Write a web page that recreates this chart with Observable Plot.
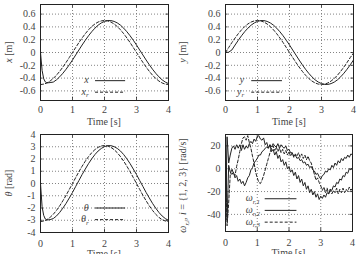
<!DOCTYPE html>
<html>
<head>
<meta charset="utf-8">
<script src="https://cdn.jsdelivr.net/npm/d3@7"></script>
<script src="https://cdn.jsdelivr.net/npm/@observablehq/plot@0.6"></script>
<style>
  body { margin: 0; background: #fff; font-family: "Liberation Serif", serif; }
  #fig { position: relative; width: 357px; height: 254px; overflow: hidden; background: #fff; }
  #fig svg { position: absolute; overflow: visible; }
</style>
</head>
<body>
<div id="fig"></div>
<script>
// Sample times (s) for the pose trajectories
const tPose = [0, 0.05, 0.1, 0.15, 0.2, 0.3, 0.4, 0.5, 0.6, 0.7, 0.8, 0.9, 1.0, 1.1, 1.2, 1.3, 1.4, 1.5, 1.6, 1.7, 1.8, 1.9, 2.0,
  2.1, 2.2, 2.3, 2.4, 2.5, 2.6, 2.7, 2.8, 2.9, 3.0, 3.1, 3.2, 3.3, 3.4, 3.5, 3.6, 3.7, 3.8, 3.9, 4.0];

// x position [m]: measured and reference
const xMeas = [0, -0.28, -0.41, -0.46, -0.475, -0.47, -0.462, -0.427, -0.38, -0.324, -0.261, -0.191, -0.117, -0.039, 0.039, 0.117,
  0.191, 0.261, 0.324, 0.38, 0.427, 0.462, 0.486, 0.499, 0.499, 0.486, 0.462, 0.427, 0.38, 0.324, 0.261, 0.191, 0.117,
  0.039, -0.039, -0.117, -0.191, -0.261, -0.324, -0.38, -0.427, -0.462, -0.486];
const xRef = [-0.5, -0.498, -0.494, -0.486, -0.476, -0.446, -0.405, -0.354, -0.294, -0.227, -0.155, -0.078, 0, 0.078, 0.155, 0.227,
  0.294, 0.354, 0.405, 0.446, 0.476, 0.494, 0.5, 0.494, 0.476, 0.446, 0.405, 0.354, 0.294, 0.227, 0.155, 0.078, 0,
  -0.078, -0.155, -0.227, -0.294, -0.354, -0.405, -0.446, -0.476, -0.494, -0.5];

// heading θ [rad]: measured and reference
const thMeas = [0, -1.9, -2.6, -2.9, -2.98, -2.95, -2.86, -2.65, -2.36, -2.01, -1.62, -1.18, -0.73, -0.24, 0.24, 0.73,
  1.18, 1.62, 2.01, 2.36, 2.65, 2.86, 3.01, 3.09, 3.09, 3.01, 2.86, 2.65, 2.36, 2.01, 1.62, 1.18, 0.73,
  0.24, -0.24, -0.73, -1.18, -1.62, -2.01, -2.36, -2.65, -2.86, -3.01];
const thRef = [-3.1, -3.088, -3.062, -3.013, -2.951, -2.765, -2.511, -2.195, -1.823, -1.407, -0.961, -0.484, 0, 0.484, 0.961, 1.407,
  1.823, 2.195, 2.511, 2.765, 2.951, 3.063, 3.1, 3.063, 2.951, 2.765, 2.511, 2.195, 1.823, 1.407, 0.961, 0.484, 0,
  -0.484, -0.961, -1.407, -1.823, -2.195, -2.511, -2.765, -2.951, -3.063, -3.1];

// y position [m]: measured and reference (0.1 s steps)
const tY = [0, 0.1, 0.2, 0.3, 0.4, 0.5, 0.6, 0.7, 0.8, 0.9, 1.0, 1.1, 1.2, 1.3, 1.4, 1.5, 1.6, 1.7, 1.8, 1.9, 2.0,
  2.1, 2.2, 2.3, 2.4, 2.5, 2.6, 2.7, 2.8, 2.9, 3.0, 3.1, 3.2, 3.3, 3.4, 3.5, 3.6, 3.7, 3.8, 3.9, 4.0];
const yMeas = [0, 0.005, 0.04, 0.117, 0.191, 0.261, 0.325, 0.38, 0.427, 0.462, 0.486, 0.499, 0.499, 0.486, 0.462, 0.427,
  0.38, 0.324, 0.261, 0.191, 0.117, 0.039, -0.039, -0.117, -0.191, -0.261, -0.324, -0.38, -0.427, -0.462, -0.486,
  -0.499, -0.499, -0.486, -0.462, -0.427, -0.38, -0.324, -0.261, -0.191, -0.117];
const yRef = [0, 0.078, 0.155, 0.227, 0.294, 0.354, 0.405, 0.446, 0.476, 0.494, 0.5, 0.494, 0.476, 0.446, 0.405, 0.354,
  0.294, 0.227, 0.155, 0.078, 0, -0.078, -0.155, -0.227, -0.294, -0.354, -0.405, -0.446, -0.476, -0.494, -0.5,
  -0.494, -0.476, -0.446, -0.405, -0.354, -0.294, -0.227, -0.155, -0.078, -0.01];

// wheel speed commands ω_r,i [rad/s] (0.05 s steps)
const tW = [0, 0.05, 0.1, 0.15, 0.2, 0.25, 0.3, 0.35, 0.4, 0.45, 0.5, 0.55, 0.6, 0.65, 0.7, 0.75, 0.8, 0.85, 0.9, 0.95,
  1.0, 1.05, 1.1, 1.15, 1.2, 1.25, 1.3, 1.35, 1.4, 1.45, 1.5, 1.55, 1.6, 1.65, 1.7, 1.75, 1.8, 1.85, 1.9, 1.95,
  2.0, 2.05, 2.1, 2.15, 2.2, 2.25, 2.3, 2.35, 2.4, 2.45, 2.5, 2.55, 2.6, 2.65, 2.7, 2.75, 2.8, 2.85, 2.9, 2.95,
  3.0, 3.05, 3.1, 3.15, 3.2, 3.25, 3.3, 3.35, 3.4, 3.45, 3.5, 3.55, 3.6, 3.65, 3.7, 3.75, 3.8, 3.85, 3.9, 3.95, 4.0];
const w1 = [-50, 28, 5, 12, 18, 20, 17, 21, 18, 21, 16, 21, 17, 20, 18, 22, 24, 22, 26, 24,
  28, 29, 26, 25, 27, 21, 23, 18, 21, 15, 17, 12, 15, 9, 12, 6, 8, 3, 6, 0,
  2, -3, -1, -6, -3, -9, -6, -12, -9, -15, -12, -18, -15, -21, -18, -23, -20, -25, -22, -27,
  -24, -26, -23, -25, -21, -22, -18, -19, -15, -16, -12, -13, -9, -10, -6, -7, -3, -4, 0, -1, 1];
const w2 = [30, -45, 3, -3, -5, -3, -8, -6, -11, -9, -13, -11, -15, -12, -8, -6, -1, 1, 5, 7,
  9, 12, 12, 15, 16, 18, 19, 18, 21, 19, 22, 20, 19, 22, 18, 21, 19, 18, 20, 16,
  17, 14, 14, 11, 12, 9, 10, 7, 8, 5, 6, 3, 4, 1, 2, -1, -2, -5, -4, -7,
  -9, -6, -5, -2, -3, 0, -1, 3, 1, 5, 3, 7, 5, 9, 7, 10, 9, 12, 10, 13, 12];
const w3 = [0, -50, -30, -5, 0, -4, -6, 2, 8, 15, 22, 27, 28, 25, 29, 23, 18, 11, 5, -3,
  -8, -12, -13, -10, -6, -1, 4, 9, 14, 18, 20, 16, 19, 15, 18, 14, 17, 13, 16, 12,
  15, 11, 14, 10, 13, 11, 14, 10, 13, 9, 12, 8, 11, 7, 5, 0, -5, -10, -8, -12,
  -15, -19, -16, -21, -17, -22, -18, -22, -19, -21, -17, -22, -18, -21, -17, -21, -18, -20, -16, -19, -17];

const FONT = "'Liberation Serif', serif";
const INK = "#222";
const TEXT = "#444";
const fig = d3.select("#fig");

// one gnuplot-style panel: frame, dotted grid, inward ticks, curves
function panel(opt) {
  const {left, top, width, height, mt, mr, mb, ml, yDomain, yTicks, series, legend, ylabel, tickPad} = opt;
  const xTicks = [0, 1, 2, 3, 4];
  const fmt = d => d === 0 ? "0" : String(d);
  const yIn = (yDomain[1] - yDomain[0]) * 0.035;
  const marks = [
    Plot.gridX([1, 2, 3], {stroke: "#777", strokeOpacity: 0.9, strokeDasharray: "1,2"}),
    Plot.gridY(yTicks.filter(v => v > yDomain[0] && v < yDomain[1]), {stroke: "#777", strokeOpacity: 0.9, strokeDasharray: "1,2"}),
    Plot.ruleY(yTicks, {x1: 0, x2: 0.08, stroke: INK, strokeWidth: 0.8}),
    Plot.ruleY(yTicks, {x1: 3.92, x2: 4, stroke: INK, strokeWidth: 0.8}),
    Plot.ruleX(xTicks, {y1: yDomain[0], y2: yDomain[0] + yIn, stroke: INK, strokeWidth: 0.8}),
    Plot.ruleX(xTicks, {y1: yDomain[1], y2: yDomain[1] - yIn, stroke: INK, strokeWidth: 0.8}),
    Plot.axisX(xTicks, {tickSize: 0, tickPadding: tickPad, label: null, tickFormat: fmt, fill: TEXT}),
    Plot.axisY(yTicks, {tickSize: 0, tickPadding: 5, label: null, tickFormat: fmt, fill: TEXT})
  ];
  for (const s of series) {
    marks.push(Plot.line(s.t.map((t, i) => ({t, v: s.v[i]})), {
      x: "t", y: "v", stroke: INK, strokeWidth: 1, strokeDasharray: s.dash ? "3,2" : null, clip: true
    }));
  }
  // legend sample lines, placed in data units inside the frame
  legend.rows.forEach((r, i) => {
    marks.push(Plot.ruleY([r.y], {x1: legend.x1, x2: legend.x2, stroke: INK, strokeWidth: 1, strokeDasharray: series[i].dash ? "3,2" : null}));
  });
  marks.push(Plot.frame({stroke: INK, strokeWidth: 1}));

  const svg = Plot.plot({
    width, height, marginTop: mt, marginRight: mr, marginBottom: mb, marginLeft: ml,
    x: {domain: [0, 4]},
    y: {domain: yDomain},
    style: {fontFamily: FONT, fontSize: "10px", color: TEXT, background: "transparent", overflow: "visible"},
    marks
  });
  const node = d3.select(svg).style("left", left + "px").style("top", top + "px");
  const sx = svg.scale("x"), sy = svg.scale("y");

  // legend labels with math styling
  legend.rows.forEach(r => {
    const tx = node.append("text").attr("x", sx.apply(legend.xt)).attr("y", sy.apply(r.y)).attr("dy", "0.32em")
      .attr("text-anchor", "end").attr("fill", TEXT);
    r.label(tx);
  });

  // axis titles
  const fx0 = ml, fx1 = width - mr, fy0 = mt, fy1 = height - mb;
  node.append("text").attr("x", (fx0 + fx1) / 2).attr("y", fy1 + opt.titleDy).attr("text-anchor", "middle")
    .attr("fill", TEXT).text("Time [s]");
  const yl = node.append("text").attr("transform", `translate(${opt.ylx},${(fy0 + fy1) / 2 + (opt.yly || 0)}) rotate(-90)`)
    .attr("text-anchor", "middle").attr("fill", TEXT);
  ylabel(yl);

  // serif face on every label, set inline so no stylesheet overrides it
  node.selectAll("text, tspan").style("font-family", FONT);
  node.selectAll("text").filter(function() { return !this.style.fontSize; }).style("font-size", "10px");
  fig.node().appendChild(svg);
}

const it = (sel, s) => sel.append("tspan").style("font-style", "italic").text(s);
const sub = (sel, s) => sel.append("tspan").style("font-size", "7px").attr("dy", 2.5).style("font-style", "italic").text(s);
const up = (sel, s) => sel.append("tspan").attr("dy", -2.5).text(s);

const poseTicks = [-0.6, -0.4, -0.2, 0, 0.2, 0.4, 0.6];

panel({
  left: 0, top: 0, width: 178, height: 125, mt: 4, mr: 10, mb: 25, ml: 40, tickPad: 5, titleDy: 25, ylx: 12,
  yDomain: [-0.75, 0.75], yTicks: poseTicks,
  series: [{t: tPose, v: xMeas}, {t: tPose, v: xRef, dash: true}],
  legend: {x1: 1.72, x2: 2.66, xt: 1.52, rows: [
    {y: -0.44, label: s => it(s, "x")},
    {y: -0.62, label: s => { it(s, "x"); sub(s, "r"); }}
  ]},
  ylabel: s => { it(s, "x"); s.append("tspan").text(" [m]"); }
});

panel({
  left: 178, top: 0, width: 179, height: 125, mt: 4, mr: 4, mb: 25, ml: 47, tickPad: 5, titleDy: 25, ylx: 8,
  yDomain: [-0.75, 0.75], yTicks: poseTicks,
  series: [{t: tY, v: yMeas}, {t: tY, v: yRef, dash: true}],
  legend: {x1: 0.82, x2: 1.78, xt: 0.6, rows: [
    {y: -0.44, label: s => it(s, "y")},
    {y: -0.62, label: s => { it(s, "y"); sub(s, "r"); }}
  ]},
  ylabel: s => { it(s, "y"); s.append("tspan").text(" [m]"); }
});

panel({
  left: 0, top: 125, width: 178, height: 129, mt: 9, mr: 10, mb: 22, ml: 40, tickPad: 7, titleDy: 25, ylx: 12,
  yDomain: [-4, 4], yTicks: [-4, -3, -2, -1, 0, 1, 2, 3, 4],
  series: [{t: tPose, v: thMeas}, {t: tPose, v: thRef, dash: true}],
  legend: {x1: 1.72, x2: 2.66, xt: 1.52, rows: [
    {y: -2.0, label: s => it(s, "θ")},
    {y: -2.95, label: s => { it(s, "θ"); sub(s, "r"); }}
  ]},
  ylabel: s => { it(s, "θ"); s.append("tspan").text(" [rad]"); }
});

panel({
  left: 178, top: 125, width: 179, height: 129, mt: 9, mr: 5, mb: 23, ml: 47, tickPad: 7, titleDy: 25, ylx: 8, yly: 3,
  yDomain: [-55, 30], yTicks: [-40, -20, 0, 20],
  series: [{t: tW, v: w1}, {t: tW, v: w2}, {t: tW, v: w3, dash: true}],
  legend: {x1: 1.25, x2: 2.25, xt: 1.1, rows: [
    {y: -26.3, label: s => { it(s, "ω"); sub(s, "r,1"); }},
    {y: -36.5, label: s => { it(s, "ω"); sub(s, "r,2"); }},
    {y: -46.8, label: s => { it(s, "ω"); sub(s, "r,3"); }}
  ]},
  ylabel: s => { it(s, "ω"); sub(s, "r,i"); up(s, ", "); it(s, "i"); s.append("tspan").text(" = {1, 2, 3} [rad/s]"); }
});
</script>
</body>
</html>
